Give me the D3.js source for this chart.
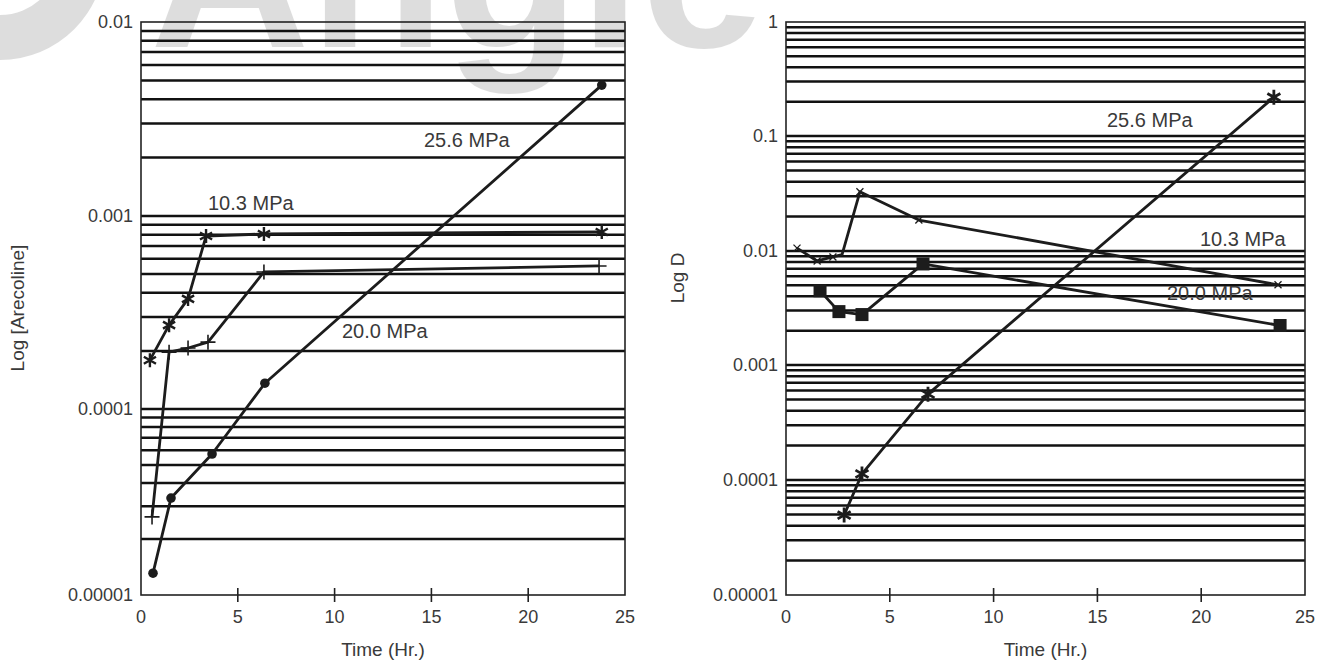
<!DOCTYPE html>
<html><head><meta charset="utf-8">
<script src="https://cdn.jsdelivr.net/npm/d3@7"></script>
<style>
body{margin:0;background:#fff}
text{font-family:"Liberation Sans",Arial,Helvetica,sans-serif;fill:#3a3a3a}
</style>
</head><body>
<svg id="c" width="1320" height="663"></svg>
<script>
// ---- data ----
const timeTicks = [0, 5, 10, 15, 20, 25];
const leftYTicks = [1e-5, 1e-4, 1e-3, 1e-2];
const leftYLabels = ["0.00001", "0.0001", "0.001", "0.01"];
const rightYTicks = [1e-5, 1e-4, 1e-3, 1e-2, 1e-1, 1];
const rightYLabels = ["0.00001", "0.0001", "0.001", "0.01", "0.1", "1"];

// Left: Log [Arecoline]
const leftT_256 = [0.62, 1.55, 3.67, 6.4, 23.8];
const leftV_256 = [1.31e-5, 3.32e-5, 5.73e-5, 1.36e-4, 4.73e-3];
const leftT_103 = [0.46, 1.45, 2.43, 3.36, 6.35, 23.8];
const leftV_103 = [1.79e-4, 2.72e-4, 3.72e-4, 7.87e-4, 8.07e-4, 8.27e-4];
const leftT_200 = [0.57, 1.45, 2.43, 3.46, 6.35, 23.66];
const leftV_200 = [2.63e-5, 1.97e-4, 2.07e-4, 2.22e-4, 5.13e-4, 5.51e-4];

// Right: Log D
const rightT_103 = [0.53, 1.5, 2.26, 2.7, 3.56, 6.4, 23.7];
const rightV_103 = [0.0106, 0.00818, 0.00887, 0.0093, 0.0327, 0.0186, 0.00505];
const rightM_103 = [true, true, true, false, true, true, true];
const rightT_200 = [1.64, 2.55, 3.66, 6.6, 23.8];
const rightV_200 = [0.00448, 0.00294, 0.00277, 0.0077, 0.00222];
const rightT_256 = [2.8, 3.66, 6.84, 23.5];
const rightV_256 = [4.95e-5, 1.13e-4, 5.58e-4, 0.219];

const seriesLabels = ["25.6 MPa", "10.3 MPa", "20.0 MPa"];

// ---- drawing ----
const svg = d3.select("#c");
const INK = "#1c1c1c";

// watermark
const wm = svg.append("g").attr("opacity", 0.13);
wm.append("path")
  .attr("d", d3.arc().innerRadius(60).outerRadius(105).startAngle(0).endAngle(2 * Math.PI)())
  .attr("transform", "translate(0,-45)").attr("fill", "#000");
wm.append("text").attr("x", 150).attr("y", 47)
  .style("font-size", "221px").style("font-weight", "bold")
  .style("fill", "#000")
  .text("Angle");

function asterisk(r) {
  let p = "";
  for (let k = 0; k < 3; k++) {
    const a = (90 + 60 * k) * Math.PI / 180;
    p += `M${r*Math.cos(a)},${-r*Math.sin(a)}L${-r*Math.cos(a)},${r*Math.sin(a)}`;
  }
  return p;
}
const plus = r => `M${-r},0L${r},0M0,${-r}L0,${r}`;
const cross = r => `M${-r},${-r}L${r},${r}M${-r},${r}L${r},${-r}`;

function panel(cfg) {
  const g = svg.append("g");
  const x = d3.scaleLinear().domain([0, 25]).range([cfg.x0, cfg.x1]);
  const y = d3.scaleLog().domain(cfg.yDomain).range(cfg.yRange);
  const top = cfg.yRange[cfg.yRange.length - 1], bottom = cfg.yRange[0];
  // gridlines at every log step
  const grid = [];
  for (let i = 0; i < cfg.yDomain.length - 1; i++) {
    const d = cfg.yDomain[i];
    for (let m = 1; m <= 9; m++) { if (i === 0 && m === 1) continue; grid.push(m * d); }
  }
  g.selectAll(".grid").data(grid).join("line")
    .attr("x1", cfg.x0).attr("x2", cfg.x1)
    .attr("y1", d => y(d)).attr("y2", d => y(d))
    .attr("stroke", "#111").attr("stroke-width", 2.5);
  // frame
  g.append("rect").attr("x", cfg.x0).attr("y", top)
    .attr("width", cfg.x1 - cfg.x0).attr("height", bottom - top)
    .attr("fill", "none").attr("stroke", "#222").attr("stroke-width", 1.6);
  // x ticks
  g.selectAll(".xt").data(timeTicks.slice(1, -1)).join("line")
    .attr("x1", d => x(d)).attr("x2", d => x(d))
    .attr("y1", bottom - 7).attr("y2", bottom + 7)
    .attr("stroke", "#222").attr("stroke-width", 1.6);
  g.selectAll(".xl").data(timeTicks).join("text")
    .attr("x", d => x(d)).attr("y", bottom + 28)
    .attr("text-anchor", "middle").style("font-size", "18px").text(d => d);
  // y labels
  g.selectAll(".yl").data(cfg.yTicks).join("text")
    .attr("x", cfg.x0 - 8).attr("y", d => y(d)).attr("dy", "0.35em")
    .attr("text-anchor", "end").style("font-size", "18px")
    .text((d, i) => cfg.yLabels[i]);
  // titles
  g.append("text").attr("x", (cfg.x0 + cfg.x1) / 2).attr("y", 656)
    .attr("text-anchor", "middle").style("font-size", "19px").text("Time (Hr.)");
  g.append("text").attr("transform", `translate(${cfg.yTitleX},${cfg.yTitleY}) rotate(-90)`)
    .attr("text-anchor", "middle").style("font-size", "19px").text(cfg.yTitle);
  // series
  const line = d3.line().x(d => x(d[0])).y(d => y(d[1]));
  cfg.series.forEach(s => {
    const pts = s.t.map((t, i) => [t, s.v[i], s.m ? s.m[i] : true]);
    g.append("path").datum(pts).attr("d", line)
      .attr("fill", "none").attr("stroke", INK).attr("stroke-width", 2.8)
      .attr("stroke-linejoin", "round");
    const mk = g.selectAll(null).data(pts.filter(p => p[2])).join("g")
      .attr("transform", d => `translate(${x(d[0])},${y(d[1])})`);
    if (s.marker === "circle") mk.append("circle").attr("r", 4.8).attr("fill", INK);
    if (s.marker === "square") mk.append("rect").attr("x", -6.5).attr("y", -6.5).attr("width", 13).attr("height", 13).attr("fill", INK);
    if (s.marker === "ast") mk.append("path").attr("d", asterisk(s.size)).attr("stroke", INK).attr("stroke-width", s.sw).attr("fill", "none");
    if (s.marker === "plus") mk.append("path").attr("d", plus(s.size)).attr("stroke", INK).attr("stroke-width", s.sw).attr("fill", "none");
    if (s.marker === "cross") mk.append("path").attr("d", cross(s.size)).attr("stroke", INK).attr("stroke-width", s.sw).attr("fill", "none");
  });
  cfg.labels.forEach(l => {
    g.append("text").attr("x", l.x).attr("y", l.y).style("font-size", "20px").text(l.text);
  });
}

panel({
  x0: 141, x1: 625,
  yDomain: leftYTicks, yRange: [595, 409, 216, 22],
  yTicks: leftYTicks, yLabels: leftYLabels,
  yTitle: "Log [Arecoline]", yTitleX: 24, yTitleY: 308,
  series: [
    {t: leftT_256, v: leftV_256, marker: "circle"},
    {t: leftT_103, v: leftV_103, marker: "ast", size: 7, sw: 2.4},
    {t: leftT_200, v: leftV_200, marker: "plus", size: 7.5, sw: 1.6}
  ],
  labels: [
    {text: seriesLabels[0], x: 424, y: 147},
    {text: seriesLabels[1], x: 208, y: 210},
    {text: seriesLabels[2], x: 342, y: 338}
  ]
});

panel({
  x0: 786, x1: 1305,
  yDomain: rightYTicks, yRange: [595, 480, 365, 251, 136, 22],
  yTicks: rightYTicks, yLabels: rightYLabels,
  yTitle: "Log D", yTitleX: 684, yTitleY: 278,
  series: [
    {t: rightT_103, v: rightV_103, m: rightM_103, marker: "cross", size: 3.5, sw: 1.3},
    {t: rightT_200, v: rightV_200, marker: "square"},
    {t: rightT_256, v: rightV_256, marker: "ast", size: 7.5, sw: 2.8}
  ],
  labels: [
    {text: seriesLabels[0], x: 1107, y: 127},
    {text: seriesLabels[1], x: 1200, y: 246},
    {text: seriesLabels[2], x: 1167, y: 300}
  ]
});
</script>
</body></html>
